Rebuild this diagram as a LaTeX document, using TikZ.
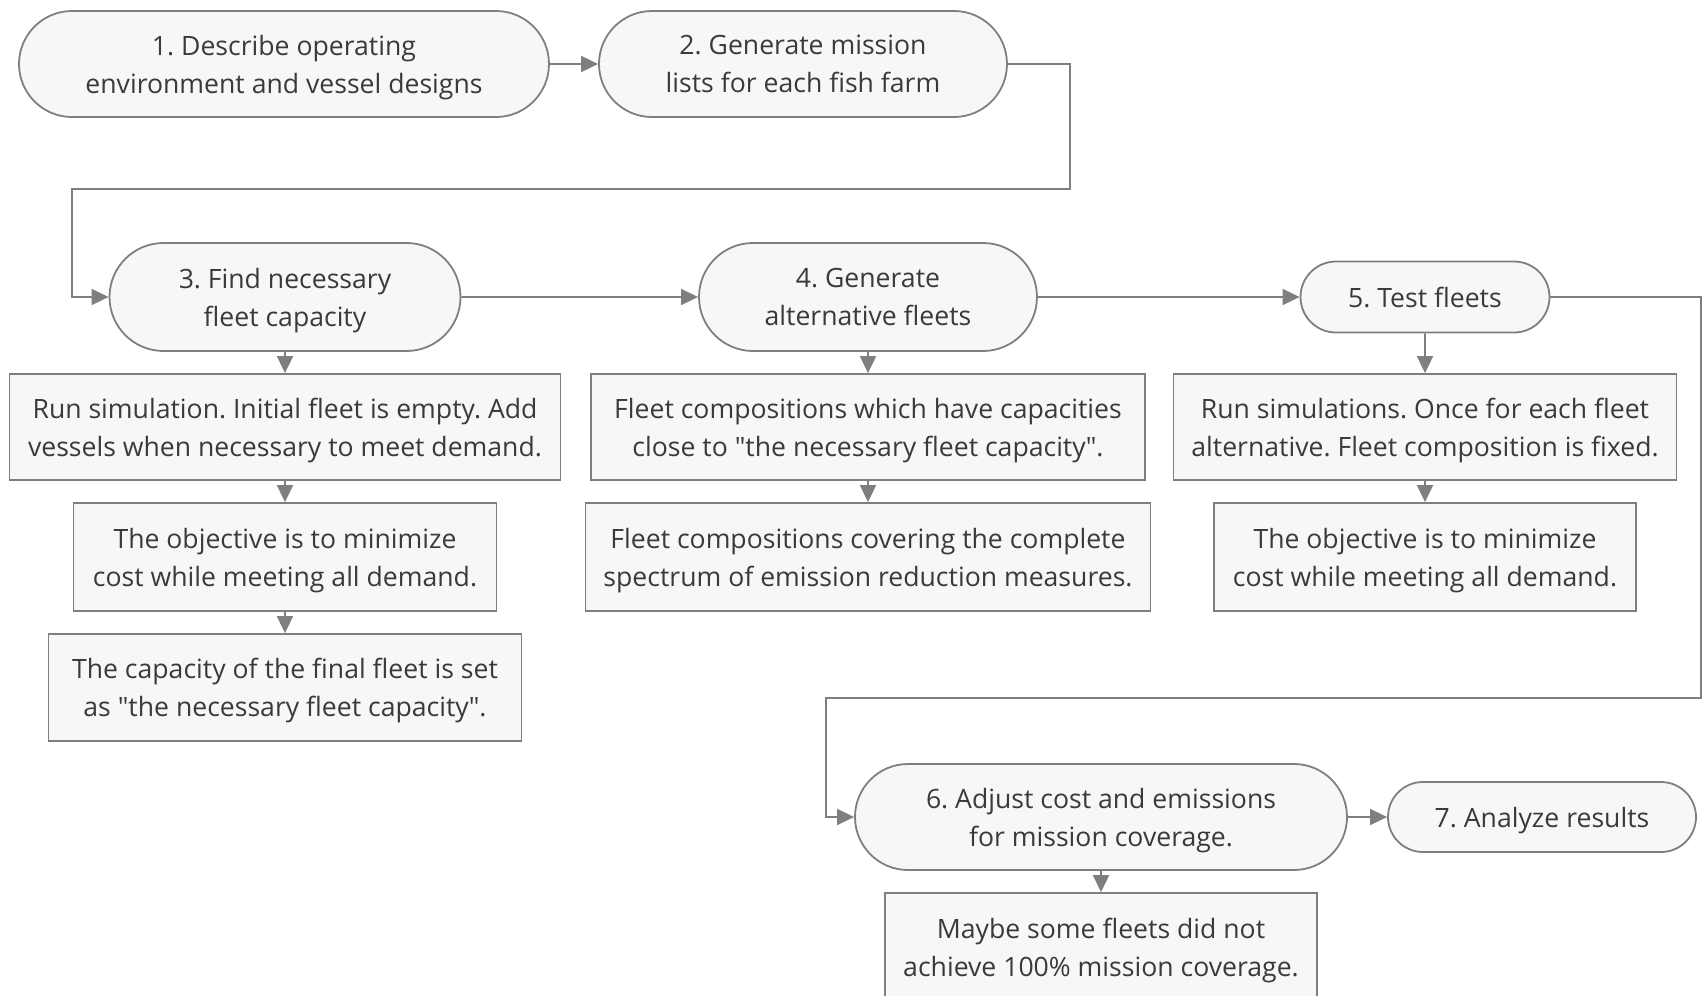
\documentclass[tikz,border=0pt]{standalone}
\usepackage{fontspec}
\setmainfont{Open Sans}
\usetikzlibrary{shapes.misc,arrows.meta}
\definecolor{fillc}{HTML}{F7F7F7}
\definecolor{linec}{HTML}{7F7F7F}
\definecolor{textc}{HTML}{3A3A3A}
\tikzset{
  base/.style={draw=linec, line width=0.9pt, fill=fillc, text=textc, align=center, inner sep=0pt,
    text depth=0pt, font=\fontsize{13.3}{19}\selectfont},
  pill/.style={base, rounded rectangle},
  boxn/.style={base, rectangle},
  arr/.style={draw=linec, line width=0.9pt, -{Triangle[length=8.5pt,width=8pt]}},
}
\frenchspacing
\begin{document}
\begin{tikzpicture}[x=0.5pt,y=-0.5pt]
\useasboundingbox (0,0) rectangle (1704,996);
% main steps
\node[pill, minimum width=265pt, minimum height=53pt] (n1) at (284,64) {1. Describe operating\\environment and vessel designs};
\node[pill, minimum width=204pt, minimum height=53pt] (n2) at (803,64) {2. Generate mission\\lists for each fish farm};
\node[pill, minimum width=175.5pt, minimum height=54pt] (n3) at (285,297) {3. Find necessary\\fleet capacity};
\node[pill, minimum width=169pt, minimum height=54pt] (n4) at (868,297) {4. Generate\\alternative fleets};
\node[pill, minimum width=124.5pt, minimum height=35.5pt] (n5) at (1425,297) {5. Test fleets};
\node[pill, minimum width=246pt, minimum height=53pt] (n6) at (1101,817) {6. Adjust cost and emissions\\for mission coverage.};
\node[pill, minimum width=154pt, minimum height=35pt] (n7) at (1542,817) {7. Analyze results};
% detail boxes
\node[boxn, minimum width=275.5pt, minimum height=53pt] (b3a) at (285,427) {Run simulation. Initial fleet is empty. Add\\vessels when necessary to meet demand.};
\node[boxn, minimum width=211.5pt, minimum height=54pt] (b3b) at (285,557) {The objective is to minimize\\cost while meeting all demand.};
\node[boxn, minimum width=236.5pt, minimum height=53.5pt] (b3c) at (285,687.5) {The capacity of the final fleet is set\\as \textquotedbl the necessary fleet capacity\textquotedbl.};
\node[boxn, minimum width=277pt, minimum height=53pt] (b4a) at (868,427) {Fleet compositions which have capacities\\close to \textquotedbl the necessary fleet capacity\textquotedbl.};
\node[boxn, minimum width=282.5pt, minimum height=54pt] (b4b) at (868,557) {Fleet compositions covering the complete\\spectrum of emission reduction measures.};
\node[boxn, minimum width=251.5pt, minimum height=53pt] (b5a) at (1425,427) {Run simulations. Once for each fleet\\alternative. Fleet composition is fixed.};
\node[boxn, minimum width=211pt, minimum height=54pt] (b5b) at (1425,557) {The objective is to minimize\\cost while meeting all demand.};
\node[boxn, minimum width=216pt, minimum height=54pt] (b6a) at (1101,947) {Maybe some fleets did not\\achieve 100\% mission coverage.};
% bend coordinates
\coordinate (k1) at (1070,189);
\coordinate (k2) at (72,189);
\coordinate (k3) at (1701,698);
\coordinate (k4) at (826,698);
% connectors
\draw[arr] (n1) -- (n2);
\draw[arr] (n2.east) -| (k1) -- (k2) |- (n3.west);
\draw[arr] (n3) -- (n4);
\draw[arr] (n4) -- (n5);
\draw[arr] (n5.east) -| (k3) -- (k4) |- (n6.west);
\draw[arr] (n6) -- (n7);
\draw[arr] (n3) -- (b3a);
\draw[arr] (b3a) -- (b3b);
\draw[arr] (b3b) -- (b3c);
\draw[arr] (n4) -- (b4a);
\draw[arr] (b4a) -- (b4b);
\draw[arr] (n5) -- (b5a);
\draw[arr] (b5a) -- (b5b);
\draw[arr] (n6) -- (b6a);
\end{tikzpicture}
\end{document}
